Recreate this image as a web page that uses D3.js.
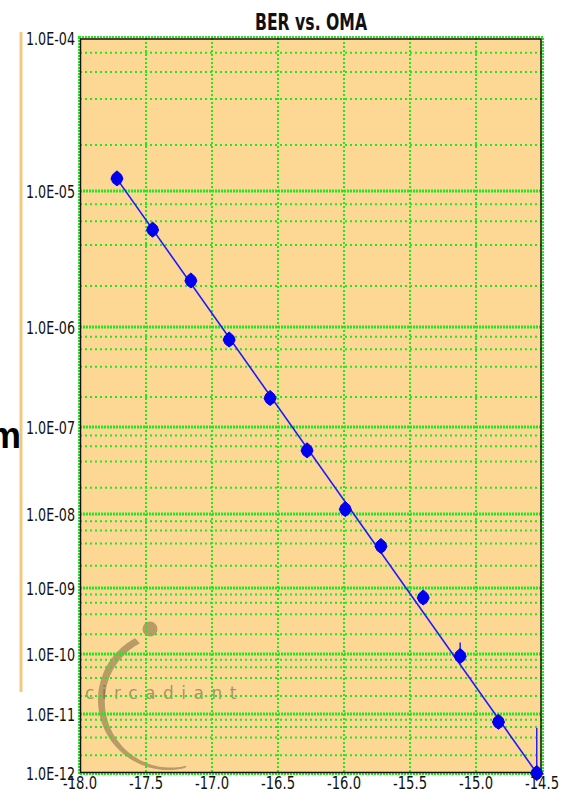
<!DOCTYPE html>
<html>
<head>
<meta charset="utf-8">
<script src="https://cdn.jsdelivr.net/npm/d3@7"></script>
<style>
html,body{margin:0;padding:0;background:#fff;}
svg{display:block;}
</style>
</head>
<body>
<svg id="chart" width="568" height="793"></svg>
<script>
// ---- data ----
const titleText = "BER vs. OMA";
const xTicks = [-18.0, -17.5, -17.0, -16.5, -16.0, -15.5, -15.0, -14.5];
const xTickLabels = ["-18.0", "-17.5", "-17.0", "-16.5", "-16.0", "-15.5", "-15.0", "-14.5"];
const yTickExps = [-4, -5, -6, -7, -8, -9, -10, -11, -12];
const yTickLabels = ["1.0E-04", "1.0E-05", "1.0E-06", "1.0E-07", "1.0E-08", "1.0E-09", "1.0E-10", "1.0E-11", "1.0E-12"];
const minorMultipliers = [2, 4, 6, 8];
const omaValues = [-17.72, -17.45, -17.16, -16.87, -16.56, -16.28, -15.99, -15.72, -15.40, -15.12, -14.83, -14.54];
const berValues = [1.21e-5, 5.2e-6, 2.2e-6, 7.5e-7, 1.95e-7, 5.4e-8, 1.14e-8, 3.7e-9, 7.2e-10, 9.3e-11, 7.4e-12, 1.0e-12];
const berUpper = [null, null, null, null, null, null, null, null, null, 1.5e-10, null, 5.8e-12];
const fitOma = [-17.72, -14.54];
const fitBer = [1.2e-5, 1.0e-12];
const sideText = "m";
const logoText = "circadiant";

// ---- scales ----
const svg = d3.select("#chart");
const x = d3.scaleLinear().domain([-18, -14.5]).range([80, 542]);
// piecewise BER axis (per decade, in log10 space)
const y = d3.scaleLinear()
  .domain(yTickExps)
  .range([38, 191, 327, 427, 514, 588, 654, 714, 773]);
const yb = v => y(Math.log10(v));

const bg = "#fcd894";
const green = "#1fe81f";
const fontNarrow = "'DejaVu Sans Condensed','Liberation Sans Narrow','Arial Narrow',sans-serif";

// left decorative orange line
svg.append("line").attr("x1", 21).attr("x2", 21).attr("y1", 32).attr("y2", 692)
  .attr("stroke", "#f2c97c").attr("stroke-width", 3);

// partial word at left edge
svg.append("text").attr("x", 21).attr("y", 448).attr("text-anchor", "end")
  .attr("font-family", "'Liberation Sans',Arial,sans-serif").attr("font-weight", "bold")
  .attr("font-size", 36).attr("fill", "#000").text(sideText);

// plot background
svg.append("rect").attr("x", x(-18)).attr("y", y(-4))
  .attr("width", x(-14.5) - x(-18)).attr("height", y(-12) - y(-4)).attr("fill", bg);

// watermark logo
const logo = svg.append("g");
const logoCol = "rgba(110,88,50,0.48)";
const lc = [168, 700], R = 70, r = 66, off = [2.8, 1.6];
const a0 = -118 * Math.PI / 180, a1 = 76 * Math.PI / 180;
const pts = [];
const N = 60;
for (let i = 0; i <= N; i++) {
  const t = a0 - (a0 - (a1 - 2 * Math.PI)) * i / N;
  pts.push([lc[0] + R * Math.cos(t), lc[1] + R * Math.sin(t)]);
}
for (let i = N; i >= 0; i--) {
  const t = a0 - (a0 - (a1 - 2 * Math.PI)) * i / N;
  pts.push([lc[0] + off[0] + r * Math.cos(t), lc[1] + off[1] + r * Math.sin(t)]);
}
logo.append("path").attr("d", d3.line().curve(d3.curveLinearClosed)(pts)).attr("fill", logoCol);
logo.append("circle").attr("cx", 150).attr("cy", 629).attr("r", 7.5).attr("fill", logoCol);
logo.append("text").attr("x", 85).attr("y", 699)
  .attr("font-family", "'DejaVu Sans',sans-serif").attr("font-size", 17)
  .attr("letter-spacing", 7.5).attr("fill", "rgba(100,85,60,0.55)").text(logoText);

// horizontal minor gridlines
const minorVals = [];
yTickExps.slice(1).forEach(e => minorMultipliers.forEach(m => minorVals.push(m * Math.pow(10, e))));
svg.append("g").selectAll("line").data(minorVals).join("line")
  .attr("x1", x(-18)).attr("x2", x(-14.5))
  .attr("y1", d => yb(d)).attr("y2", d => yb(d))
  .attr("stroke", green).attr("stroke-width", 2).attr("stroke-dasharray", "2,3");

// vertical gridlines
svg.append("g").selectAll("line").data(xTicks.slice(1, -1)).join("line")
  .attr("x1", d => x(d)).attr("x2", d => x(d))
  .attr("y1", y(-4)).attr("y2", y(-12))
  .attr("stroke", green).attr("stroke-width", 2).attr("stroke-dasharray", "2,2");

// horizontal major gridlines
svg.append("g").selectAll("line").data(yTickExps.slice(1, -1)).join("line")
  .attr("x1", x(-18)).attr("x2", x(-14.5))
  .attr("y1", d => y(d)).attr("y2", d => y(d))
  .attr("stroke", green).attr("stroke-width", 3).attr("stroke-dasharray", "2,1");

// frame
svg.append("rect").attr("x", x(-18) - 1).attr("y", y(-4) - 1)
  .attr("width", x(-14.5) - x(-18) + 2).attr("height", y(-12) - y(-4) + 2)
  .attr("fill", "none").attr("stroke", green).attr("stroke-width", 2).attr("stroke-dasharray", "2,1");
svg.append("rect").attr("x", x(-18) + 0.5).attr("y", y(-4) + 1)
  .attr("width", x(-14.5) - x(-18) - 1.5).attr("height", y(-12) - y(-4) - 1.5)
  .attr("fill", "none").attr("stroke", "#111").attr("stroke-width", 1.5);

// fit line
const fitData = fitOma.map((o, i) => [o, fitBer[i]]);
svg.append("path").datum(fitData)
  .attr("d", d3.line().x(d => x(d[0])).y(d => yb(d[1])))
  .attr("fill", "none").attr("stroke", "#1a1aff").attr("stroke-width", 1.6);

// error bars (upper)
const pts2 = omaValues.map((o, i) => ({o, b: berValues[i], u: berUpper[i]}));
svg.append("g").selectAll("line").data(pts2.filter(d => d.u !== null)).join("line")
  .attr("x1", d => x(d.o)).attr("x2", d => x(d.o))
  .attr("y1", d => yb(d.b)).attr("y2", d => yb(d.u))
  .attr("stroke", "#2020ff").attr("stroke-width", 1.5);

// markers
const marker = "M0,-7.5 L4.5,-3.5 L6,0.5 L4,4.5 L0,7.5 L-4,4.5 L-6,0.5 L-4.5,-3.5 Z";
svg.append("g").selectAll("path").data(pts2).join("path")
  .attr("d", marker)
  .attr("transform", d => `translate(${x(d.o)},${yb(d.b)})`)
  .attr("fill", "#0000f0").attr("stroke", "#0000f0").attr("stroke-width", 1).attr("stroke-linejoin", "round");

// y axis labels
svg.append("g").selectAll("text").data(yTickExps).join("text")
  .attr("x", 26).attr("y", d => y(d) + 7)
  .attr("font-family", fontNarrow).attr("font-size", 17.5)
  .attr("textLength", 49).attr("lengthAdjust", "spacingAndGlyphs")
  .attr("fill", "#111").text((d, i) => yTickLabels[i]);

// x axis labels (clipped at right like the source)
svg.append("clipPath").attr("id", "xclip").append("rect")
  .attr("x", 0).attr("y", 0).attr("width", 559).attr("height", 793);
svg.append("g").attr("clip-path", "url(#xclip)").selectAll("text").data(xTicks).join("text")
  .attr("x", d => x(d) - 17).attr("y", 789)
  .attr("font-family", fontNarrow).attr("font-size", 17.5)
  .attr("textLength", 34).attr("lengthAdjust", "spacingAndGlyphs")
  .attr("fill", "#111").text((d, i) => xTickLabels[i]);

// title
svg.append("text").attr("x", 255).attr("y", 30)
  .attr("font-family", fontNarrow).attr("font-weight", "bold").attr("font-size", 23)
  .attr("textLength", 112).attr("lengthAdjust", "spacingAndGlyphs")
  .attr("fill", "#111").text(titleText);
</script>
</body>
</html>
